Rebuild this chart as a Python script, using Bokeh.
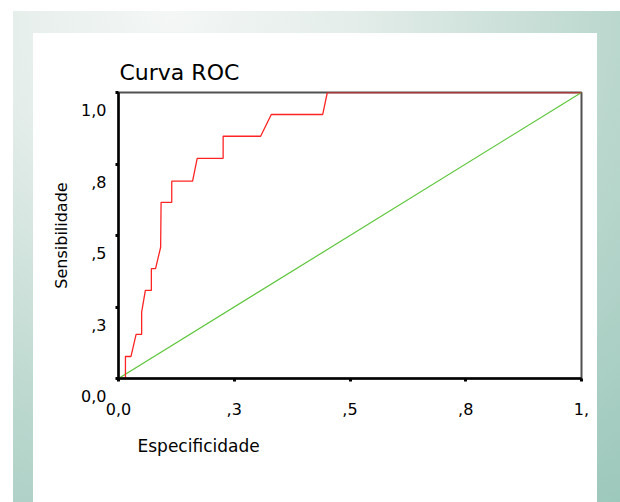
from bokeh.plotting import figure
from bokeh.models import Range1d, FixedTicker, Title
from bokeh.embed import file_html
from bokeh.resources import INLINE

# ---- data ----
title_text = "Curva ROC"
x_label = "Especificidade"
y_label = "Sensibilidade"

tick_values = [0.0, 0.25, 0.5, 0.75, 1.0]
x_tick_labels = ["0,0", ",3", ",5", ",8", "1,"]
y_tick_labels = ["0,0", ",3", ",5", ",8", "1,0"]

roc_x = [0.000, 0.015, 0.015, 0.027, 0.038, 0.050, 0.050, 0.058, 0.071, 0.071,
         0.080, 0.091, 0.092, 0.115, 0.115, 0.160, 0.170, 0.226, 0.226, 0.307,
         0.330, 0.441, 0.451, 1.000]
roc_y = [0.000, 0.000, 0.077, 0.077, 0.154, 0.154, 0.232, 0.308, 0.308, 0.384,
         0.384, 0.459, 0.616, 0.616, 0.690, 0.690, 0.770, 0.770, 0.847, 0.847,
         0.923, 0.923, 1.000, 1.000]

ref_x = [0.0, 1.0]
ref_y = [0.0, 1.0]

# ---- layout (pixels) ----
W, H = 620, 502
FL, FR, FT, FB = 118, 581, 92, 378   # frame edges
FONT = "DejaVu Sans"

p = figure(width=W, height=H, output_backend="svg", toolbar_location=None,
           x_range=Range1d(0, 1), y_range=Range1d(0, 1),
           min_border_left=FL, min_border_right=W - FR,
           min_border_top=FT, min_border_bottom=H - FB)

p.styles = {
    "background": (
        "linear-gradient(#ffffff, #ffffff) 33px 33px / 564px 469px no-repeat, "
        "radial-gradient(ellipse 120% 140% at 26% 0%, #f4f7f6 0%, #e4ede9 25%, "
        "#bcd8cf 60%, #97c5b8 100%) 13px 11px / 607px 491px no-repeat, #ffffff"
    )
}
p.border_fill_color = None
p.background_fill_color = "#ffffff"
p.outline_line_color = "#505050"
p.outline_line_width = 2
p.grid.visible = False

# title
p.title.text = title_text
p.title.align = "left"
p.title.offset = 1
p.title.text_font = FONT
p.title.text_font_size = "22px"
p.title.text_font_style = "normal"
p.title.text_color = "#000000"
p.title.standoff = 16

for ax in (p.xaxis[0], p.yaxis[0]):
    ax.ticker = FixedTicker(ticks=tick_values)
    ax.minor_tick_line_color = None
    ax.major_tick_in = 0
    ax.major_tick_out = 3
    ax.major_tick_line_width = 3
    ax.major_tick_line_color = "#000000"
    ax.axis_line_color = "#000000"
    ax.axis_line_width = 2.5
    ax.major_label_text_font = FONT
    ax.major_label_text_font_size = "16px"
    ax.major_label_text_color = "#000000"

p.xaxis[0].major_label_overrides = {v: t for v, t in zip(tick_values, x_tick_labels)}
p.xaxis[0].major_label_standoff = 21
# SPSS prints the y tick labels a little below their ticks
p.yaxis[0].major_label_overrides = {v: "\n\n" + t for v, t in zip(tick_values, y_tick_labels)}
p.yaxis[0].major_label_standoff = 9
p.yaxis[0].major_label_text_line_height = 0.95

p.yaxis[0].axis_label = y_label
p.yaxis[0].axis_label_text_font = FONT
p.yaxis[0].axis_label_text_font_size = "16px"
p.yaxis[0].axis_label_text_font_style = "normal"
p.yaxis[0].axis_label_text_color = "#000000"
p.yaxis[0].axis_label_standoff = 7

p.add_layout(Title(text=x_label, align="left", offset=19, standoff=32,
                   text_font=FONT, text_font_size="17px", text_font_style="normal",
                   text_color="#000000"), "below")

# curves
p.line(ref_x, ref_y, line_color="#5cc63a", line_width=1.2)
p.line(roc_x, roc_y, line_color="#ff2424", line_width=1.3)

open("out.html", "w").write(file_html(p, INLINE))
